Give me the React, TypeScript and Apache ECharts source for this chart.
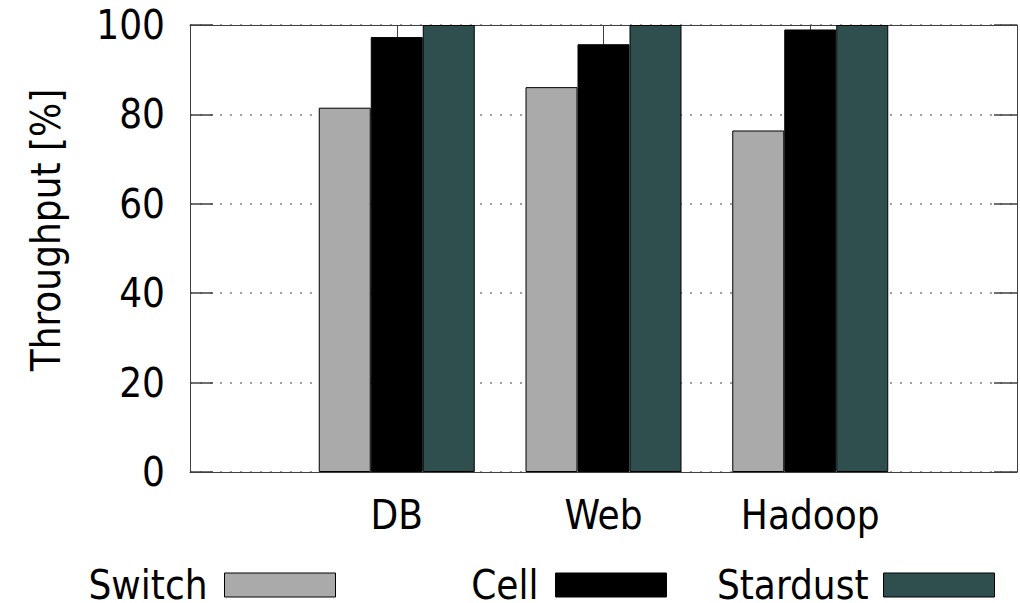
import React, { useEffect, useRef } from 'react';
import * as echarts from 'echarts';

const categories = ['DB', 'Web', 'Hadoop'];
const seriesNames = ['Switch', 'Cell', 'Stardust'];
const switchValues = [81.5, 86.1, 76.4];
const cellValues = [97.3, 95.7, 99.0];
const stardustValues = [100, 100, 100];
const seriesColors = ['#aaaaaa', '#000000', '#2f4f4f'];
const yMin = 0;
const yMax = 100;
const yInterval = 20;

const FONT = '"DejaVu Sans Condensed", "DejaVu Sans", sans-serif';

export default function App() {
  const ref = useRef<HTMLDivElement>(null);

  useEffect(() => {
    if (!ref.current) return;
    const chart = echarts.init(ref.current, undefined, { renderer: 'svg' });
    const axisData = ['', ...categories, ''];
    const pad = (arr: number[]) => ['-', ...arr, '-'];
    const allValues = [switchValues, cellValues, stardustValues];

    const axisColor = '#404040';
    const legendRights = [684, 353, 25];
    const legendPads = [12, 12, 10];

    chart.setOption({
      animation: false,
      backgroundColor: '#ffffff',
      textStyle: { fontFamily: FONT },
      grid: { left: 190, right: 3, top: 25, bottom: 131, containLabel: false },
      xAxis: [
        {
          type: 'category',
          data: axisData,
          boundaryGap: false,
          position: 'bottom',
          axisLine: { show: true, onZero: false, lineStyle: { color: axisColor, width: 1 } },
          axisTick: { show: true, inside: true, length: 23, lineStyle: { color: axisColor } },
          axisLabel: { show: true, interval: 0, margin: 23, fontSize: 40, color: '#000', fontFamily: FONT },
          splitLine: { show: false },
        },
        {
          type: 'category',
          data: axisData,
          boundaryGap: false,
          position: 'top',
          axisLine: { show: true, onZero: false, lineStyle: { color: axisColor, width: 1 } },
          axisTick: { show: true, inside: true, length: 23, lineStyle: { color: axisColor } },
          axisLabel: { show: false },
          splitLine: { show: false },
        },
      ],
      yAxis: [
        {
          type: 'value',
          min: yMin,
          max: yMax,
          interval: yInterval,
          position: 'left',
          axisLine: { show: true, onZero: false, lineStyle: { color: axisColor, width: 1 } },
          axisTick: { show: true, inside: true, length: 23, lineStyle: { color: axisColor, width: 1.5 } },
          axisLabel: { show: true, margin: 25, fontSize: 40, color: '#000', fontFamily: FONT },
          splitLine: { show: true, lineStyle: { color: '#808080', width: 1.5, type: [2, 8] } },
        },
        {
          type: 'value',
          min: yMin,
          max: yMax,
          interval: yInterval,
          position: 'right',
          axisLine: { show: true, onZero: false, lineStyle: { color: axisColor, width: 1 } },
          axisTick: { show: true, inside: true, length: 23, lineStyle: { color: axisColor, width: 1.5 } },
          axisLabel: { show: false },
          splitLine: { show: false },
        },
      ],
      legend: seriesNames.map((name, i) => ({
        data: [name],
        right: legendRights[i],
        top: 565,
        align: 'right',
        orient: 'horizontal',
        icon: 'rect',
        itemWidth: 111,
        itemHeight: 24,
        itemGap: 0,
        padding: 0,
        selectedMode: false,
        itemStyle: { borderColor: '#000', borderWidth: 1 },
        textStyle: {
          fontSize: 40,
          lineHeight: 30,
          color: '#000',
          fontFamily: FONT,
          padding: [0, legendPads[i], 0, 0],
        },
      })),
      graphic: [
        {
          type: 'text',
          x: 46,
          y: 230,
          rotation: Math.PI / 2,
          style: {
            text: 'Throughput [%]',
            fontSize: 40,
            fontFamily: FONT,
            fill: '#000',
            textAlign: 'center',
            textVerticalAlign: 'middle',
          },
        },
      ],
      series: seriesNames.map((name, i) => ({
        name,
        type: 'bar',
        xAxisIndex: 0,
        yAxisIndex: 0,
        data: pad(allValues[i]),
        barWidth: 52,
        barGap: '0%',
        itemStyle: { color: seriesColors[i], borderColor: '#000', borderWidth: 1 },
      })),
    });

    return () => chart.dispose();
  }, []);

  return (
    <div
      ref={ref}
      style={{ position: 'absolute', left: 0, top: 0, width: 1020, height: 603 }}
    />
  );
}
